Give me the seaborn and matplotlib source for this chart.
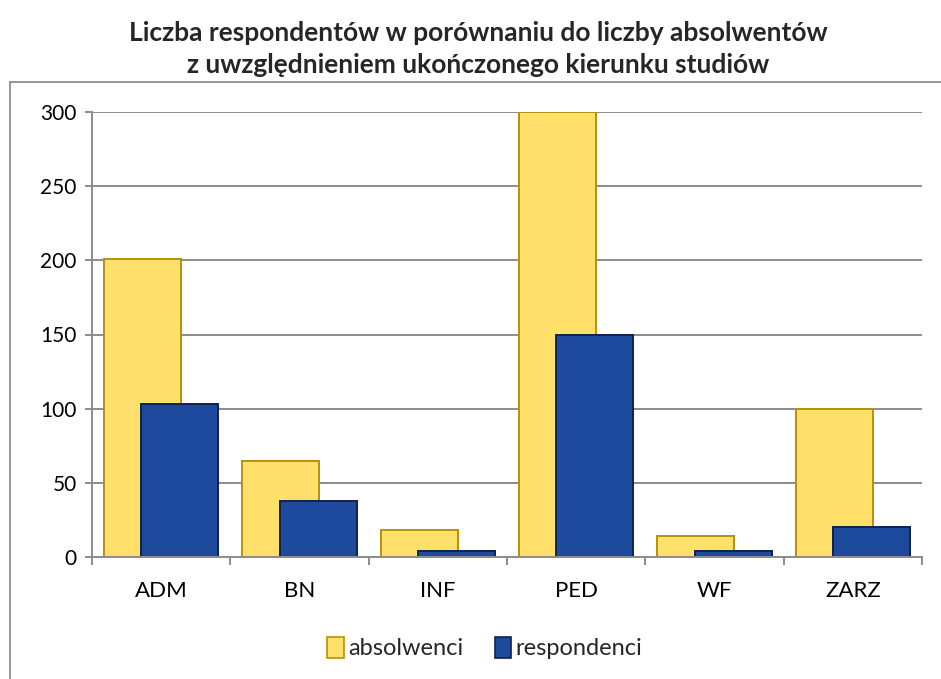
import matplotlib
matplotlib.use("Agg")
import matplotlib.pyplot as plt
import matplotlib.patches as mpatches
import seaborn as sns
import pandas as pd
import numpy as np

categories = ["ADM", "BN", "INF", "PED", "WF", "ZARZ"]
absolwenci = [201, 65, 18, 300, 14, 100]
respondenci = [103, 38, 4, 150, 4, 20]
series_names = ["absolwenci", "respondenci"]
title = "Liczba respondentów w porównaniu do liczby absolwentów\nz uwzględnieniem ukończonego kierunku studiów"

df = pd.DataFrame({
    "kierunek": categories * 2,
    "liczba": absolwenci + respondenci,
    "seria": [series_names[0]] * len(categories) + [series_names[1]] * len(categories),
})

sns.set_theme(style="white")
plt.rcParams["font.family"] = ["Lato", "DejaVu Sans"]

face = {"absolwenci": "#FFE06A", "respondenci": "#1E4A9E"}
edge = {"absolwenci": "#B8900A", "respondenci": "#0E2250"}

fig = plt.figure(figsize=(9.41, 6.79), dpi=100)
ax = fig.add_axes([92 / 941, 1 - 557 / 679, (922 - 92) / 941, (557 - 112) / 679])

dodge_w = 0.54
sns.barplot(data=df, x="kierunek", y="liczba", hue="seria", hue_order=series_names,
            order=categories, palette=face, width=dodge_w, dodge=True, ax=ax,
            saturation=1, legend=False, errorbar=None)

bar_w = 0.556
for i, cont in enumerate(ax.containers):
    name = series_names[i]
    for p in cont.patches:
        cx = p.get_x() + p.get_width() / 2
        p.set_x(cx - bar_w / 2)
        p.set_width(bar_w)
        p.set_edgecolor(edge[name])
        p.set_linewidth(1.4)
        p.set_zorder(3 + i)

ax.set_xlim(-0.5, len(categories) - 0.5)
ax.set_ylim(0, 300)
ax.set_yticks(np.arange(0, 301, 50))
ax.yaxis.grid(True, color="#8C8C8C", linewidth=1.4)
ax.set_axisbelow(True)
ax.set_xlabel("")
ax.set_ylabel("")

for s in ["top", "right"]:
    ax.spines[s].set_visible(False)
for s in ["left", "bottom"]:
    ax.spines[s].set_color("#8C8C8C")
    ax.spines[s].set_linewidth(1.4)
    ax.spines[s].set_zorder(10)

ax.tick_params(axis="y", which="major", direction="out", length=5, width=1.4,
               color="#8C8C8C", labelsize=15, labelcolor="black", pad=6, left=True)
ax.tick_params(axis="x", which="major", length=0, labelsize=16, labelcolor="black", pad=17)
ax.set_xticks(np.arange(-0.5, len(categories), 1.0), minor=True)
ax.tick_params(axis="x", which="minor", direction="out", length=6, width=1.4,
               color="#8C8C8C", bottom=True)

fig.text(478 / 941, 1 - 49 / 679, title, ha="center", va="center",
         fontsize=19, fontweight="bold", linespacing=1.4)

handles = [mpatches.Patch(facecolor=face[n], edgecolor=edge[n], linewidth=1.2, label=n)
           for n in series_names]
fig.legend(handles=handles, loc="center", bbox_to_anchor=(485 / 941, 1 - 648 / 679),
           ncol=2, frameon=False, fontsize=17, handlelength=0.7, handleheight=1.0,
           handletextpad=0.2, columnspacing=1.3)

frame = mpatches.Rectangle((10 / 941, -0.2), 1.2, 1 - 82 / 679 + 0.2,
                           transform=fig.transFigure, fill=False,
                           edgecolor="#8C8C8C", linewidth=1.3, clip_on=False)
fig.add_artist(frame)

fig.savefig("out.png", dpi=100)
